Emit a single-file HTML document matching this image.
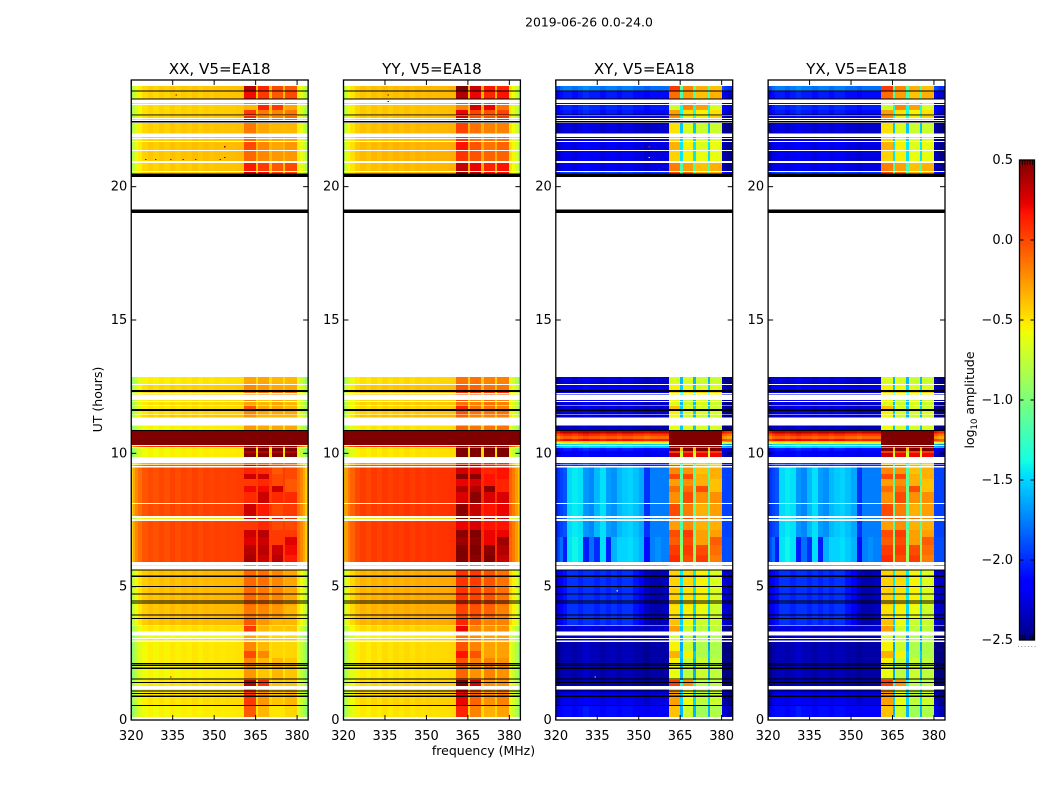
<!DOCTYPE html>
<html>
<head>
<meta charset="utf-8">
<title>2019-06-26 0.0-24.0</title>
<style>
html,body{margin:0;padding:0;background:#fff;}
svg{display:block;}
text{font-family:"DejaVu Sans","Liberation Sans",sans-serif;fill:#000;}
</style>
</head>
<body>
<svg id="chart" xmlns="http://www.w3.org/2000/svg" width="1050" height="800" viewBox="0 0 1050 800">
  <rect x="0" y="0" width="1050" height="800" fill="#fff"/>
  <text x="589" y="26.5" font-size="12.4" text-anchor="middle">2019-06-26 0.0-24.0</text>
  <text x="483.5" y="755" font-size="12.5" text-anchor="middle">frequency (MHz)</text>
  <text transform="translate(102,399.5) rotate(-90)" font-size="12.5" text-anchor="middle">UT (hours)</text>
  <text transform="translate(974,400) rotate(-90)" font-size="12.5" text-anchor="middle">log<tspan font-size="8.5" dy="3">10</tspan><tspan dy="-3"> amplitude</tspan></text>
</svg>
<script>
var panelNames = ["XX, V5=EA18", "YY, V5=EA18", "XY, V5=EA18", "YX, V5=EA18"];
var xTickLabels = [320, 335, 350, 365, 380];
var yTickLabels = [0, 5, 10, 15, 20];
var colorTickLabels = [0.5, 0.0, -0.5, -1.0, -1.5, -2.0, -2.5];

// channel edges in MHz
var freqEdges = [320,320.7,321.5,322.5,324,326,328,330,332,334,336,338,340,342,344,346,348,350,352,354,356,358,360.8,362.2,363.7,365.1,365.9,367.2,368.5,369.8,370.8,372.2,373.6,374.9,375.7,377,378.5,380,381,382,383,384];
// -1 outside the windows, 0..3 window number, -2 gap between windows
var channelWindow = [-1,-1,-1,-1,-1,-1,-1,-1,-1,-1,-1,-1,-1,-1,-1,-1,-1,-1,-1,-1,-1,-1,0,0,0,-2,1,1,1,-2,2,2,2,-2,3,3,3,-1,-1,-1,-1];
// log10 amplitude relative to the row level
var parallelProfile = [-.42,-.3,-.2,-.12,-.04,0,-.03,.01,-.02,.02,-.01,.02,0,.03,0,.03,.01,.03,.02,.03,.03,.04,0,0,0,0,0,0,0,0,0,0,0,0,0,0,0,-.12,-.2,-.3,-.42];
var crossQuiet = [-.1,-.1,0,.05,.05,0,.05,.1,.05,.05,0,.05,.05,0,.05,.05,0,0,-.05,0,0,0,0,0,0,0,0,0,0,0,0,0,0,0,0,0,0,-.1,-.15,-.2,-.2];
var crossRipple = [-.35,-.3,-.25,-.2,.2,.25,.22,0,-.05,.1,.22,.02,-.02,.1,.15,.18,.12,.05,-.3,-.08,-.08,-.08,0,0,0,0,0,0,0,0,0,0,0,0,0,0,0,-.25,-.25,-.25,-.25];
var crossLeftBright = [0,.05,.1,.2,.3,.3,.25,.3,.3,.25,.3,.25,.3,.25,.3,.3,.2,.1,-.05,-.1,-.1,-.05,0,0,0,0,0,0,0,0,0,0,0,0,0,0,0,0,0,-.05,-.05];
var crossStreaks = [-.35,-.25,-.15,-.4,.2,.25,.2,-.4,-.15,-.35,.18,-.4,.05,.15,.15,.18,.12,.05,-.45,-.1,-.05,-.1,0,0,0,0,0,0,0,0,0,0,0,0,0,0,0,-.25,-.25,-.25,-.25];
var crossProfiles = [crossQuiet, crossRipple, crossLeftBright, crossStreaks];
var panelBaseOffset = [0, .04, 0, 0];
var panelWindowOffset = [0, .17, -.33, -.33];
var panelWindowSlope = [1, 1, 1.08, 1.08];

// [hour top, hour bottom, parallel level, cross profile, cross level, window 1..4 level]
var timeBlocks = [
[23.78,23.59,-.42,0,-1.8,.35,.12,0,-.05],
[23.59,23.29,-.43,0,-2.1,.2,.05,-.05,.0],
[23.13,23.10,-.5,0,-2.2,-.2,-.1,-.2,-.2],
[23.06,22.88,-.45,0,-2.05,-.35,.12,.05,-.3],
[22.88,22.69,-.45,0,-2.1,.05,-.15,-.2,-.15],
[22.65,22.58,-.45,0,-2.2,.1,-.2,-.2,-.1],
[22.54,22.5,-.45,0,-2.2,.25,-.15,-.1,-.1],
[22.39,22.0,-.42,0,-2.3,-.15,-.3,-.35,-.35],
[21.86,21.83,-.43,0,-2.3,-.1,-.3,-.3,-.3],
[21.79,21.71,-.43,0,-2.3,-.1,-.3,-.3,-.3],
[21.68,21.38,-.4,0,-2.25,0,-.2,-.3,-.25],
[21.34,20.96,-.4,0,-2.25,-.1,-.2,-.25,-.25],
[20.89,20.59,-.42,0,-2.25,.15,.05,-.05,0],
[20.55,20.48,-.42,0,-1.95,.3,.2,0,0],
[12.86,12.6,-.52,0,-2.3,-.3,-.3,-.35,-.35],
[12.56,12.38,-.45,0,-2.2,-.2,-.25,-.3,-.3],
[12.3,12.26,-.45,0,-2.2,-.1,-.1,-.1,-.1],
[12.23,12.2,-.42,0,-2.3,-.2,-.2,-.2,-.2],
[12.0,11.96,-.5,0,-2.2,-.2,-.4,-.3,-.35],
[11.93,11.81,-.48,0,-2.3,-.3,-.35,-.3,-.35],
[11.79,11.66,-.5,0,-2.3,-.05,-.3,-.3,-.35],
[11.65,11.59,-.48,0,-2.3,-.15,-.3,-.3,-.3],
[11.59,11.46,-.47,0,-2.3,-.2,-.3,-.3,-.3],
[11.44,11.34,-.42,0,-2.3,-.25,-.35,-.35,-.35],
[11.04,10.88,-.55,0,-2.35,-.25,-.3,-.3,-.3],
[10.85,10.74,1,0,.3,1.9,1.9,1.9,1.9],
[10.74,10.65,1,0,.05,1.9,1.9,1.9,1.9],
[10.65,10.54,1,0,-.1,1.9,1.9,1.9,1.9],
[10.54,10.46,1,0,.15,1.9,1.9,1.9,1.9],
[10.46,10.43,1,0,-1.3,1.9,1.9,1.9,1.9],
[10.43,10.35,1,0,-.55,1.9,1.9,1.9,1.9],
[10.35,10.31,1,0,-1.5,1.9,1.9,1.9,1.9],
[10.27,10.24,.1,0,-1.5,1.9,1.9,1.9,1.9],
[10.21,10.09,-.55,0,-2.1,.8,.8,.8,.8],
[10.09,10.01,-.55,0,-2.2,.35,.35,.35,.35],
[10.01,9.86,-.55,0,-2.2,.6,.5,.5,.5],
[9.64,9.59,-.3,0,-2.0,-.1,-.1,-.1,-.1],
[9.56,9.53,-.05,0,-2.0,.3,.2,0,-.1],
[9.46,9.225,0,1,-1.68,.12,.08,-.05,0],
[9.225,9.04,0,1,-1.68,.3,.3,0,0],
[9.04,8.775,0,1,-1.68,.05,.1,0,-.05],
[8.775,8.55,0,1,-1.68,.2,.2,.3,-.05],
[8.55,8.14,0,1,-1.68,.1,.3,.1,.1],
[8.1,7.65,0,1,-1.68,.3,.15,0,.05],
[7.58,7.53,-.5,1,-1.68,.3,.3,.2,.1],
[7.46,7.125,0,1,-1.68,.05,.1,0,0],
[7.125,6.86,0,1,-1.68,.3,.35,.05,.05],
[6.86,6.56,0,3,-1.65,.25,.3,.05,.25],
[6.56,6.19,0,3,-1.65,.35,.35,.3,.2],
[6.19,5.925,0,3,-1.65,.4,.3,.35,.15],
[5.82,5.79,-.5,0,-2.0,.2,.2,.1,.05],
[5.64,5.06,-.38,2,-2.28,-.1,-.12,-.2,-.3],
[5.06,4.31,-.38,2,-2.28,-.1,-.15,-.2,-.3],
[4.31,3.825,-.38,2,-2.28,-.15,-.2,-.25,-.35],
[3.825,3.55,-.38,2,-2.28,-.05,-.25,-.35,-.35],
[3.53,3.31,-.5,0,-2.3,.05,-.35,-.4,-.4],
[3.16,3.08,-.6,0,-2.35,-.3,-.4,-.45,-.45],
[3.03,2.98,-.5,0,-2.35,-.3,-.35,-.4,-.4],
[2.93,2.59,-.53,0,-2.4,-.2,-.35,-.45,-.45],
[2.59,2.33,-.53,0,-2.4,0,-.2,-.45,-.45],
[2.33,2.1,-.53,0,-2.4,-.2,-.35,-.35,-.4],
[2.1,1.5,-.55,0,-2.4,-.25,-.4,-.35,-.4],
[1.5,1.28,-.5,0,-2.4,.35,.1,-.4,-.4],
[1.15,.56,-.5,0,-2.25,.05,-.25,-.4,-.35],
[.56,.11,-.55,0,-2.15,-.05,-.35,-.5,-.45]
];

// fully flagged time intervals, drawn black [hour top, hour bottom]
var flaggedHours = [[23.61,23.57],[23.31,23.27],[22.70,22.66],[22.46,22.40],[20.49,20.37],[19.14,19.01],[12.38,12.30],[11.67,11.63],[11.62,11.58],[10.88,10.84],[5.645,5.605],[5.41,5.37],[5.03,4.99],[4.745,4.705],[4.49,4.45],[4.40,4.36],[3.95,3.91],[3.83,3.79],[2.13,2.09],[2.06,2.02],[1.96,1.92],[1.55,1.51],[1.43,1.39],[1.10,1.06],[1.01,.97],[.91,.87],[.57,.53]];

// isolated interference points [panel, hour, MHz, log10 amplitude]
var rfiPoints = [[0,21.02,325,.3],[0,21.02,328.6,.3],[0,21.02,334,.3],[0,21.02,338.5,.3],[0,21.02,343,.3],[0,21.02,352,.3],[0,21.5,353.5,.45],[0,21.1,353.5,.45],[0,23.44,336,.45],[0,1.62,334,.4],[1,23.44,336,.45],[1,23.2,336,.45],[2,21.5,353.5,.2],[2,21.1,353.5,-.5],[2,1.62,334,-1.0],[2,4.85,342,-1.0]];

var X_MIN = 320, X_MAX = 384, Y_MIN = 0, Y_MAX = 24;
var V_MIN = -2.5, V_MAX = 0.5;
var PLOT_TOP = 80, PLOT_BOTTOM = 720, PANEL_W = 176.9;
var panelLefts = [131.25, 343.5, 555.8, 768.1];
var NS = "http://www.w3.org/2000/svg";
var svg = document.getElementById("chart");

function lerpStops(n, stops) {
  for (var i = 1; i < stops.length; i++) {
    if (n <= stops[i][0]) {
      var a = stops[i - 1], b = stops[i];
      return a[1] + (b[1] - a[1]) * (n - a[0]) / (b[0] - a[0]);
    }
  }
  return stops[stops.length - 1][1];
}
function jet(v) {
  var n = Math.max(0, Math.min(1, (v - V_MIN) / (V_MAX - V_MIN)));
  var r = lerpStops(n, [[0,0],[.35,0],[.66,1],[.89,1],[1,.5]]);
  var g = lerpStops(n, [[0,0],[.125,0],[.375,1],[.64,1],[.91,0],[1,0]]);
  var b = lerpStops(n, [[0,.5],[.11,1],[.34,1],[.65,0],[1,0]]);
  return "rgb(" + Math.round(r * 255) + "," + Math.round(g * 255) + "," + Math.round(b * 255) + ")";
}
function xScale(panel, f) { return panelLefts[panel] + (f - X_MIN) / (X_MAX - X_MIN) * PANEL_W; }
function yScale(t) { return PLOT_BOTTOM - (t - Y_MIN) / (Y_MAX - Y_MIN) * (PLOT_BOTTOM - PLOT_TOP); }
function colorbarY(v) { return 640 - (v - V_MIN) / (V_MAX - V_MIN) * 480; }

function cellValue(panel, row, c) {
  var cross = panel >= 2;
  var w = channelWindow[c];
  var par = row[2], prof = row[3], lvl = row[4];
  if (w >= 0) return row[5 + w] * panelWindowSlope[panel] + panelWindowOffset[panel];
  if (w === -2) {
    if (!cross) return par + .05 + panelBaseOffset[panel];
    return (row[5] + row[6] + row[7] + row[8]) / 4 * panelWindowSlope[panel] + panelWindowOffset[panel] - .9;
  }
  if (!cross) return par + parallelProfile[c] + panelBaseOffset[panel];
  return lvl + crossProfiles[prof][c];
}
function makeRect(parent, x, y, w, h, fill) {
  var r = document.createElementNS(NS, "rect");
  r.setAttribute("x", x.toFixed(2));
  r.setAttribute("y", y.toFixed(2));
  r.setAttribute("width", Math.max(w, .5).toFixed(2));
  r.setAttribute("height", Math.max(h, .5).toFixed(2));
  r.setAttribute("fill", fill);
  parent.appendChild(r);
  return r;
}
function makeLine(parent, x1, y1, x2, y2, sw) {
  var l = document.createElementNS(NS, "line");
  l.setAttribute("x1", x1);
  l.setAttribute("y1", y1);
  l.setAttribute("x2", x2);
  l.setAttribute("y2", y2);
  l.setAttribute("stroke", "#000");
  l.setAttribute("stroke-width", sw);
  parent.appendChild(l);
  return l;
}
function makeText(parent, x, y, str, size, anchor) {
  var t = document.createElementNS(NS, "text");
  t.setAttribute("x", x);
  t.setAttribute("y", y);
  t.setAttribute("font-size", size);
  t.setAttribute("text-anchor", anchor);
  t.textContent = str;
  parent.appendChild(t);
  return t;
}

panelNames.forEach(function (name, p) {
  var g = document.createElementNS(NS, "g");
  
  
  svg.appendChild(g);

  var heat = document.createElementNS(NS, "g");
  heat.setAttribute("shape-rendering", "crispEdges");
  
  
  g.appendChild(heat);

  timeBlocks.forEach(function (row) {
    for (var c = 0; c < freqEdges.length - 1; c++) {
      var x0 = Math.round(xScale(p, freqEdges[c])), x1 = Math.round(xScale(p, freqEdges[c + 1]));
      var y0 = yScale(row[0]), y1 = yScale(row[1]);
      var cell = makeRect(heat, x0, y0, x1 - x0, y1 - y0, jet(cellValue(p, row, c)));
      
      
    }
  });
  rfiPoints.forEach(function (pt) {
    if (pt[0] !== p) return;
    var dot = makeRect(heat, xScale(p, pt[2]), yScale(pt[1] + .02), 1.5, 1.2, jet(pt[3]));
    
    
  });
  flaggedHours.forEach(function (iv) {
    var bar = makeRect(heat, xScale(p, X_MIN), yScale(iv[0]), PANEL_W, yScale(iv[1]) - yScale(iv[0]), "#000");
    
    
  });

  xTickLabels.forEach(function (v) {
    var x = xScale(p, v);
    var t1 = makeLine(g, x, PLOT_BOTTOM, x, PLOT_BOTTOM - 5, 1);
    
    
    var t2 = makeLine(g, x, PLOT_TOP, x, PLOT_TOP + 5, 1);
    
    
    var lbl = makeText(g, x, 740, String(v), 13, "middle");
    
    
  });
  yTickLabels.forEach(function (v) {
    var y = yScale(v);
    var t1 = makeLine(g, panelLefts[p], y, panelLefts[p] + 5, y, 1);
    
    
    var t2 = makeLine(g, panelLefts[p] + PANEL_W, y, panelLefts[p] + PANEL_W - 5, y, 1);
    
    
    var lbl = makeText(g, panelLefts[p] - 4, y + 4, String(v), 13, "end");
    
    
  });

  var frame = document.createElementNS(NS, "rect");
  frame.setAttribute("x", panelLefts[p]);
  frame.setAttribute("y", PLOT_TOP);
  frame.setAttribute("width", PANEL_W);
  frame.setAttribute("height", PLOT_BOTTOM - PLOT_TOP);
  frame.setAttribute("fill", "none");
  frame.setAttribute("stroke", "#000");
  frame.setAttribute("stroke-width", "1.3");
  
  
  g.appendChild(frame);

  var title = makeText(g, panelLefts[p] + PANEL_W / 2, 74, name, 15.1, "middle");
  
  
});

// colorbar
var cb = document.createElementNS(NS, "g");


svg.appendChild(cb);
var CB_L = 1019.5, CB_W = 15;
var cbCells = document.createElementNS(NS, "g");
cbCells.setAttribute("shape-rendering", "crispEdges");
cb.appendChild(cbCells);
for (var i = 0; i < 240; i++) {
  var vLow = V_MIN + (V_MAX - V_MIN) * i / 240;
  var vHigh = V_MIN + (V_MAX - V_MIN) * (i + 1) / 240;
  var seg = makeRect(cbCells, CB_L, colorbarY(vHigh), CB_W, colorbarY(vLow) - colorbarY(vHigh) + .5, jet((vLow + vHigh) / 2));
  
  
}
colorTickLabels.forEach(function (v) {
  var y = colorbarY(v);
  var a = makeLine(cb, CB_L, y, CB_L + 4, y, 1);
  
  
  var b = makeLine(cb, CB_L + CB_W, y, CB_L + CB_W - 4, y, 1);
  
  
  var lbl = makeText(cb, 1013, y + 4, v.toFixed(1).replace("-", "\u2212"), 13, "end");
  
  
});
for (var k = 0; k < 5; k++) {
  var tx = CB_L + 3 + k * 2.5;
  var tt = makeLine(cb, tx, 160, tx, 165, .8);
  
  
  var tb = makeLine(cb, tx, 640, tx, 635, .8);
  
  
}
for (var d = 0; d < 6; d++) {
  var dot = makeRect(cb, 1018 + d * 3.3, 646, 1, 1, "#999");
  
  
}
var cbFrame = document.createElementNS(NS, "rect");
cbFrame.setAttribute("x", CB_L);
cbFrame.setAttribute("y", 160);
cbFrame.setAttribute("width", CB_W);
cbFrame.setAttribute("height", 480);
cbFrame.setAttribute("fill", "none");
cbFrame.setAttribute("stroke", "#000");
cbFrame.setAttribute("stroke-width", "1.3");


cb.appendChild(cbFrame);
</script>
</body>
</html>
